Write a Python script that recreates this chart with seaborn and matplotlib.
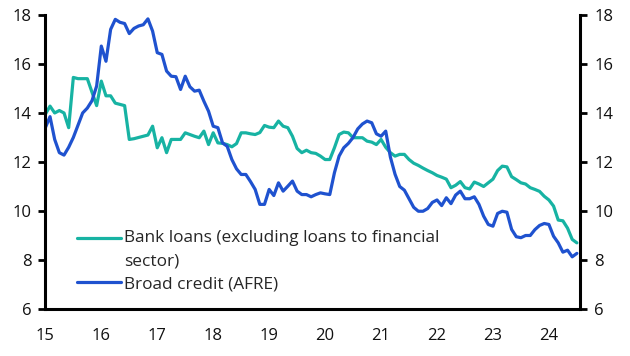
import numpy as np
import pandas as pd
import matplotlib
matplotlib.use("Agg")
import matplotlib.pyplot as plt
import seaborn as sns

start_month = "2015-01"

bank_loans = [
    13.95, 14.28, 14.0, 14.1, 14.0, 13.4, 15.45, 15.4, 15.4, 15.4, 14.85, 14.3,
    15.3, 14.7, 14.7, 14.4, 14.35, 14.3, 12.92, 12.95, 13.0, 13.05, 13.1, 13.46,
    12.58, 12.99, 12.38, 12.92, 12.92, 12.92, 13.19, 13.12, 13.05, 12.99, 13.26, 12.71,
    13.19, 12.78, 12.76, 12.71, 12.62, 12.75, 13.19, 13.19, 13.15, 13.12, 13.2, 13.49,
    13.42, 13.4, 13.67, 13.46, 13.40, 13.05, 12.55, 12.38, 12.48, 12.38, 12.35, 12.24,
    12.10, 12.10, 12.58, 13.12, 13.22, 13.19, 12.99, 12.99, 12.99, 12.85, 12.81, 12.71,
    12.92, 12.6, 12.38, 12.24, 12.31, 12.31, 12.10, 11.95, 11.86, 11.75, 11.65, 11.56,
    11.45, 11.38, 11.3, 10.95, 11.05, 11.2, 10.95, 10.9, 11.18, 11.1, 11.0, 11.15,
    11.3, 11.65, 11.83, 11.8, 11.4, 11.28, 11.15, 11.1, 10.95, 10.88, 10.8, 10.6,
    10.45, 10.2, 9.63, 9.6, 9.3, 8.84, 8.7,
]

broad_credit = [
    13.4, 13.85, 12.92, 12.38, 12.28, 12.6, 13.0, 13.5, 14.0, 14.2, 14.5, 15.1,
    16.73, 16.11, 17.41, 17.82, 17.7, 17.65, 17.24, 17.45, 17.55, 17.6, 17.84, 17.34,
    16.46, 16.39, 15.71, 15.5, 15.48, 14.96, 15.5, 15.07, 14.89, 14.93, 14.48, 14.07,
    13.46, 13.4, 12.78, 12.64, 12.10, 11.72, 11.49, 11.49, 11.2, 10.88, 10.27, 10.27,
    10.88, 10.63, 11.15, 10.81, 11.01, 11.22, 10.81, 10.67, 10.67, 10.58, 10.67, 10.74,
    10.70, 10.67, 11.56, 12.24, 12.58, 12.76, 13.0, 13.35, 13.55, 13.67, 13.6, 13.15,
    13.05, 13.26, 12.2, 11.5, 11.0, 10.85, 10.5, 10.15, 9.99, 9.99, 10.1, 10.35,
    10.45, 10.22, 10.54, 10.3, 10.65, 10.81, 10.5, 10.5, 10.58, 10.27, 9.79, 9.45,
    9.38, 9.9, 9.99, 9.95, 9.25, 8.95, 8.91, 9.0, 9.0, 9.24, 9.41, 9.49,
    9.45, 8.97, 8.7, 8.32, 8.40, 8.13, 8.27,
]

series_names = ["Bank loans (excluding loans to financial\nsector)", "Broad credit (AFRE)"]
series_colors = ["#17b3a3", "#1f52cf"]
x_ticks = list(range(2015, 2025))
x_tick_labels = [str(y % 100) for y in x_ticks]
y_ticks = [6, 8, 10, 12, 14, 16, 18]

dates = pd.date_range(start_month, periods=len(bank_loans), freq="MS")
xdec = dates.year + (dates.month - 1) / 12.0

df = pd.concat([
    pd.DataFrame({"x": xdec, "value": bank_loans, "series": series_names[0]}),
    pd.DataFrame({"x": xdec, "value": broad_credit, "series": series_names[1]}),
])

sns.set_style("white")
plt.rcParams["font.family"] = ["Open Sans", "DejaVu Sans"]

fig = plt.figure(figsize=(6.3, 3.56), dpi=100)
ax = fig.add_axes([0.072, 0.132, 0.849, 0.826])

sns.lineplot(data=df, x="x", y="value", hue="series", palette=series_colors,
             hue_order=series_names, linewidth=2.3, ax=ax)

ax.set_xlim(2015.0, 2024.56)
ax.set_ylim(6, 18)
ax.set_xticks(x_ticks)
ax.set_xticklabels(x_tick_labels)
ax.set_yticks(y_ticks)
ax.set_xlabel("")
ax.set_ylabel("")

ax2 = ax.twinx()
ax2.set_ylim(6, 18)
ax2.set_yticks(y_ticks)

for a in (ax, ax2):
    a.spines["top"].set_visible(False)
    for s in ["left", "right", "bottom"]:
        a.spines[s].set_linewidth(2.2)
        a.spines[s].set_color("black")
    a.tick_params(axis="both", which="major", length=5, width=2, color="black",
                  labelsize=12, labelcolor="#111111", pad=5, direction="out")
ax.spines["right"].set_visible(False)
ax2.spines["left"].set_visible(False)
ax2.spines["bottom"].set_visible(False)
ax.tick_params(axis="x", pad=9)

leg = ax.legend(loc="upper left", bbox_to_anchor=(0.060, 0.268), frameon=False,
                fontsize=12.4, handlelength=2.5, handletextpad=0.2,
                labelspacing=0.42, borderaxespad=0, borderpad=0)
for line in leg.get_lines():
    line.set_linewidth(2.3)
for t in leg.get_texts():
    t.set_linespacing(1.58)
# put the first handle on the first text line, as in the reference
first = leg.get_lines()[0]
first.set_ydata(np.asarray(first.get_ydata()) + 8.3)

fig.savefig("out.png", dpi=100)
